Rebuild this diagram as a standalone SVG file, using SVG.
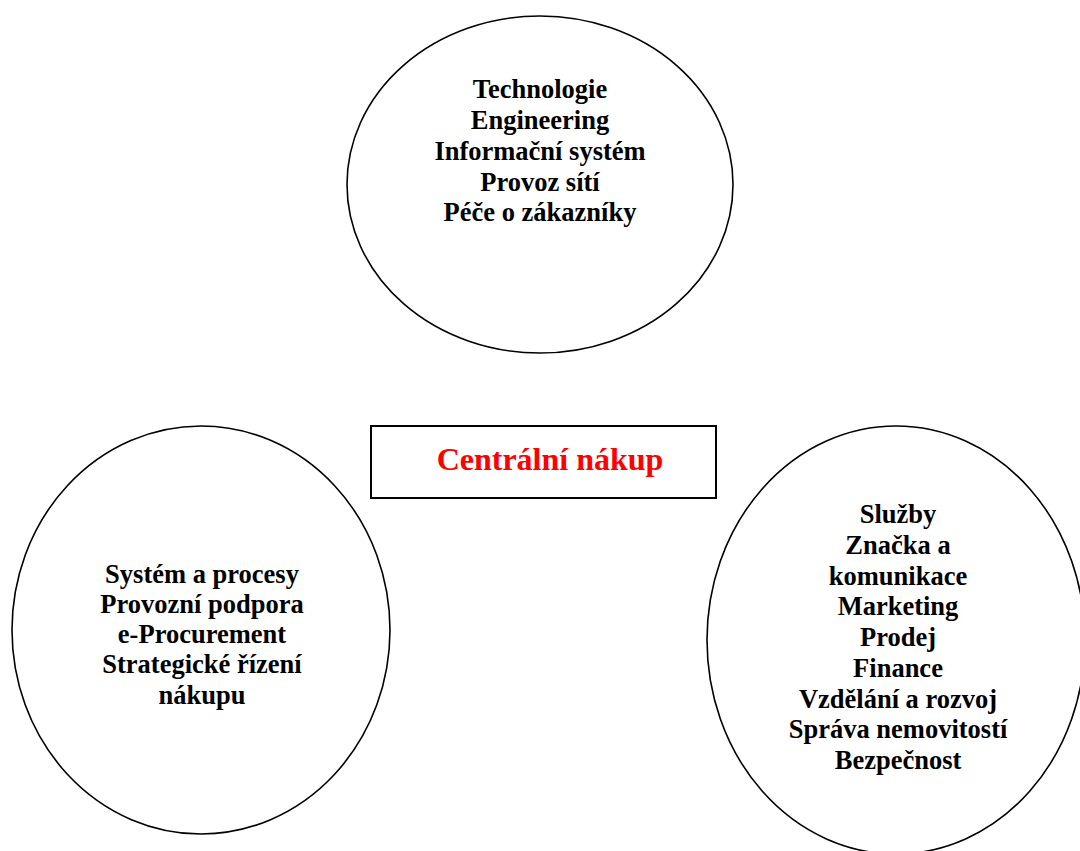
<svg xmlns="http://www.w3.org/2000/svg" width="1080" height="851" viewBox="0 0 1080 851">
  <style>
    .shape { fill: #ffffff; stroke: #000000; stroke-width: 1.6; }
    .box { fill: #ffffff; stroke: #000000; stroke-width: 2; }
    .label { font-family: "Liberation Serif", "Times New Roman", serif; font-weight: bold; font-size: 26.5px; fill: #000000; text-anchor: middle; }
    .title { font-family: "Liberation Serif", "Times New Roman", serif; font-weight: bold; font-size: 32px; fill: #ff0000; text-anchor: middle; }
  </style>
  <rect x="0" y="0" width="1080" height="851" fill="#ffffff"/>

  <g id="connectors"></g>

  <g id="node-technologie">
    <ellipse class="shape" cx="540" cy="184.5" rx="193" ry="168.5"/>
    <text class="label" x="540" y="98">Technologie</text>
    <text class="label" x="540" y="128.5">Engineering</text>
    <text class="label" x="540" y="159.5">Informační systém</text>
    <text class="label" x="540" y="190.5">Provoz sítí</text>
    <text class="label" x="540" y="221">Péče o zákazníky</text>
  </g>

  <g id="node-central">
    <rect class="box" x="371" y="426" width="345" height="72"/>
    <text class="title" x="550" y="470">Centrální nákup</text>
  </g>

  <g id="node-nakup">
    <ellipse class="shape" cx="201" cy="630" rx="189" ry="204"/>
    <text class="label" x="202" y="583">Systém a procesy</text>
    <text class="label" x="202" y="613">Provozní podpora</text>
    <text class="label" x="202" y="643">e-Procurement</text>
    <text class="label" x="202" y="673">Strategické řízení</text>
    <text class="label" x="202" y="704">nákupu</text>
  </g>

  <g id="node-sluzby">
    <ellipse class="shape" cx="896" cy="640" rx="189" ry="214"/>
    <text class="label" x="898" y="523">Služby</text>
    <text class="label" x="898" y="553.75">Značka a</text>
    <text class="label" x="898" y="584.5">komunikace</text>
    <text class="label" x="898" y="615.25">Marketing</text>
    <text class="label" x="898" y="646">Prodej</text>
    <text class="label" x="898" y="676.75">Finance</text>
    <text class="label" x="898" y="707.5">Vzdělání a rozvoj</text>
    <text class="label" x="898" y="738.25">Správa nemovitostí</text>
    <text class="label" x="898" y="769">Bezpečnost</text>
  </g>
</svg>
